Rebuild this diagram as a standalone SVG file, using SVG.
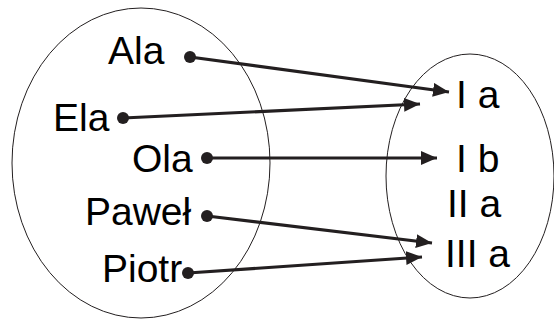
<svg xmlns="http://www.w3.org/2000/svg" width="554" height="320" viewBox="0 0 554 320">
<style>
.set{fill:none;stroke:#231f20;stroke-width:1}
.lbl{font-family:"Liberation Sans",Arial,sans-serif;font-size:39px;fill:#000}
.dot{fill:#231f20}
.arr{stroke:#231f20;stroke-width:3.2;fill:none;marker-end:url(#ah)}
</style>
<defs>
<marker id="ah" markerUnits="userSpaceOnUse" markerWidth="18" markerHeight="16" refX="16" refY="7" orient="auto">
<path d="M0,0 L16,7 L0,14 z" fill="#231f20"/>
</marker>
</defs>
<g id="setA"><ellipse class="set" cx="141" cy="163" rx="129" ry="155"/></g>
<g id="setB"><ellipse class="set" cx="470" cy="176" rx="84" ry="122"/></g>
<g id="ala"><text class="lbl" x="108" y="64">Ala</text><circle class="dot" cx="190" cy="57" r="6"/></g>
<g id="ela"><text class="lbl" x="53" y="131">Ela</text><circle class="dot" cx="123" cy="118" r="6"/></g>
<g id="ola"><text class="lbl" x="132" y="172">Ola</text><circle class="dot" cx="207" cy="158" r="6"/></g>
<g id="pawel"><text class="lbl" x="85" y="225">Paweł</text><circle class="dot" cx="207" cy="216" r="6"/></g>
<g id="piotr"><text class="lbl" x="102" y="282">Piotr</text><circle class="dot" cx="188" cy="273" r="6"/></g>
<g id="ia"><text class="lbl" x="456" y="108">I a</text></g>
<g id="ib"><text class="lbl" x="456" y="172">I b</text></g>
<g id="iia"><text class="lbl" x="447" y="217">II a</text></g>
<g id="iiia"><text class="lbl" x="445" y="267">III a</text></g>
<g id="connectors">
<line class="arr" x1="190" y1="57" x2="449" y2="92"/>
<line class="arr" x1="123" y1="118" x2="420" y2="104"/>
<line class="arr" x1="207" y1="158" x2="437" y2="158"/>
<line class="arr" x1="207" y1="216" x2="432" y2="243"/>
<line class="arr" x1="188" y1="273" x2="422" y2="257"/>
</g>
</svg>
